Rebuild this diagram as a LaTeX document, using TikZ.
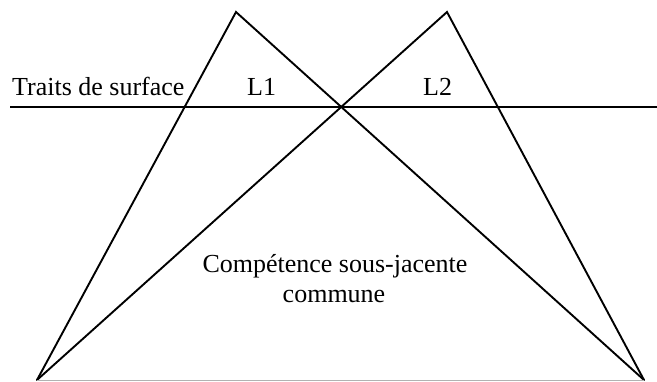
\documentclass[tikz,border=0pt]{standalone}
\usepackage{fontspec}
\setmainfont{Liberation Serif}
\begin{document}
\begin{tikzpicture}[x=1pt,y=-1pt,
  ln/.style={line width=1.9pt,line cap=round,line join=miter},
  lbl/.style={inner sep=0pt,anchor=base west,font=\fontsize{26}{30}\selectfont},
  clbl/.style={inner sep=0pt,anchor=base,font=\fontsize{26}{30}\selectfont}]
\useasboundingbox (0,0) rectangle (657,381);
\coordinate (A1) at (236,12);
\coordinate (A2) at (447,12);
\coordinate (B1) at (37,380);
\coordinate (B2) at (644,380);
\coordinate (H1) at (10,107);
\coordinate (H2) at (657,107);
\draw[ln] (B1) -- (A1) -- (B2);
\draw[ln] (B1) -- (A2) -- (B2);
\draw[ln,line cap=butt] (H1) -- (H2);
\draw[line width=1pt,gray!60] (B1) -- (B2);
\node[lbl] (ts) at (12,95) {Traits de surface};
\node[lbl] (l1) at (247,95) {L1};
\node[lbl] (l2) at (423,95) {L2};
\node[clbl] (c1) at (335,272) {Compétence sous-jacente};
\node[clbl] (c2) at (334,302) {commune};
\end{tikzpicture}
\end{document}
